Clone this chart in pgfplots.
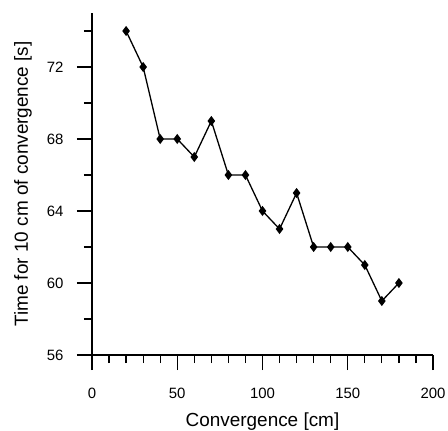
\documentclass[border=0pt]{standalone}
\usepackage{fontspec}
\setmainfont{Liberation Sans}
\usepackage{pgfplots}
\pgfplotsset{compat=1.18}

\begin{document}
\begin{tikzpicture}
% fixed frame around the plot area (origin = lower left corner of the axis)
\useasboundingbox (-92bp,-76bp) rectangle (356bp,355bp);
\begin{axis}[
    at={(0bp,0bp)}, anchor=south west,
    scale only axis,
    width=341bp, height=342bp,
    xmin=0, xmax=200,
    ymin=56, ymax=75,
    axis lines=left,
    axis line style={-, line width=1.2bp, black},
    xtick={0,50,...,200},
    minor x tick num=4,
    ytick={56,60,...,72},
    minor ytick={58,62,...,74},
    tick align=outside,
    major tick length=15bp,
    minor tick length=8bp,
    tick style={line width=1.2bp, black},
    /pgf/number format/assume math mode=true,
    ticklabel style={font=\fontsize{15}{18}\selectfont},
    xticklabel style={yshift=-15bp},
    yticklabel style={xshift=-10bp},
    xlabel={Convergence [cm]},
    ylabel={Time for 10 cm of convergence [s]},
    % axis labels: baselines 72bp below and 64bp left of the axis lines
    xlabel style={font=\fontsize{19}{22}\selectfont,
                  at={(axis description cs:0.5,-0.2105)}, anchor=base},
    ylabel style={font=\fontsize{19}{22}\selectfont,
                  at={(axis description cs:-0.1877,0.5)}, anchor=base},
    clip=false,
]
\addplot[black, line width=1.3bp, mark=diamond*, mark size=4bp,
         mark options={solid, fill=black}] coordinates {
    (20,74) (30,72) (40,68) (50,68) (60,67) (70,69) (80,66) (90,66)
    (100,64) (110,63) (120,65) (130,62) (140,62) (150,62) (160,61)
    (170,59) (180,60)
};
\end{axis}
\end{tikzpicture}
\end{document}
